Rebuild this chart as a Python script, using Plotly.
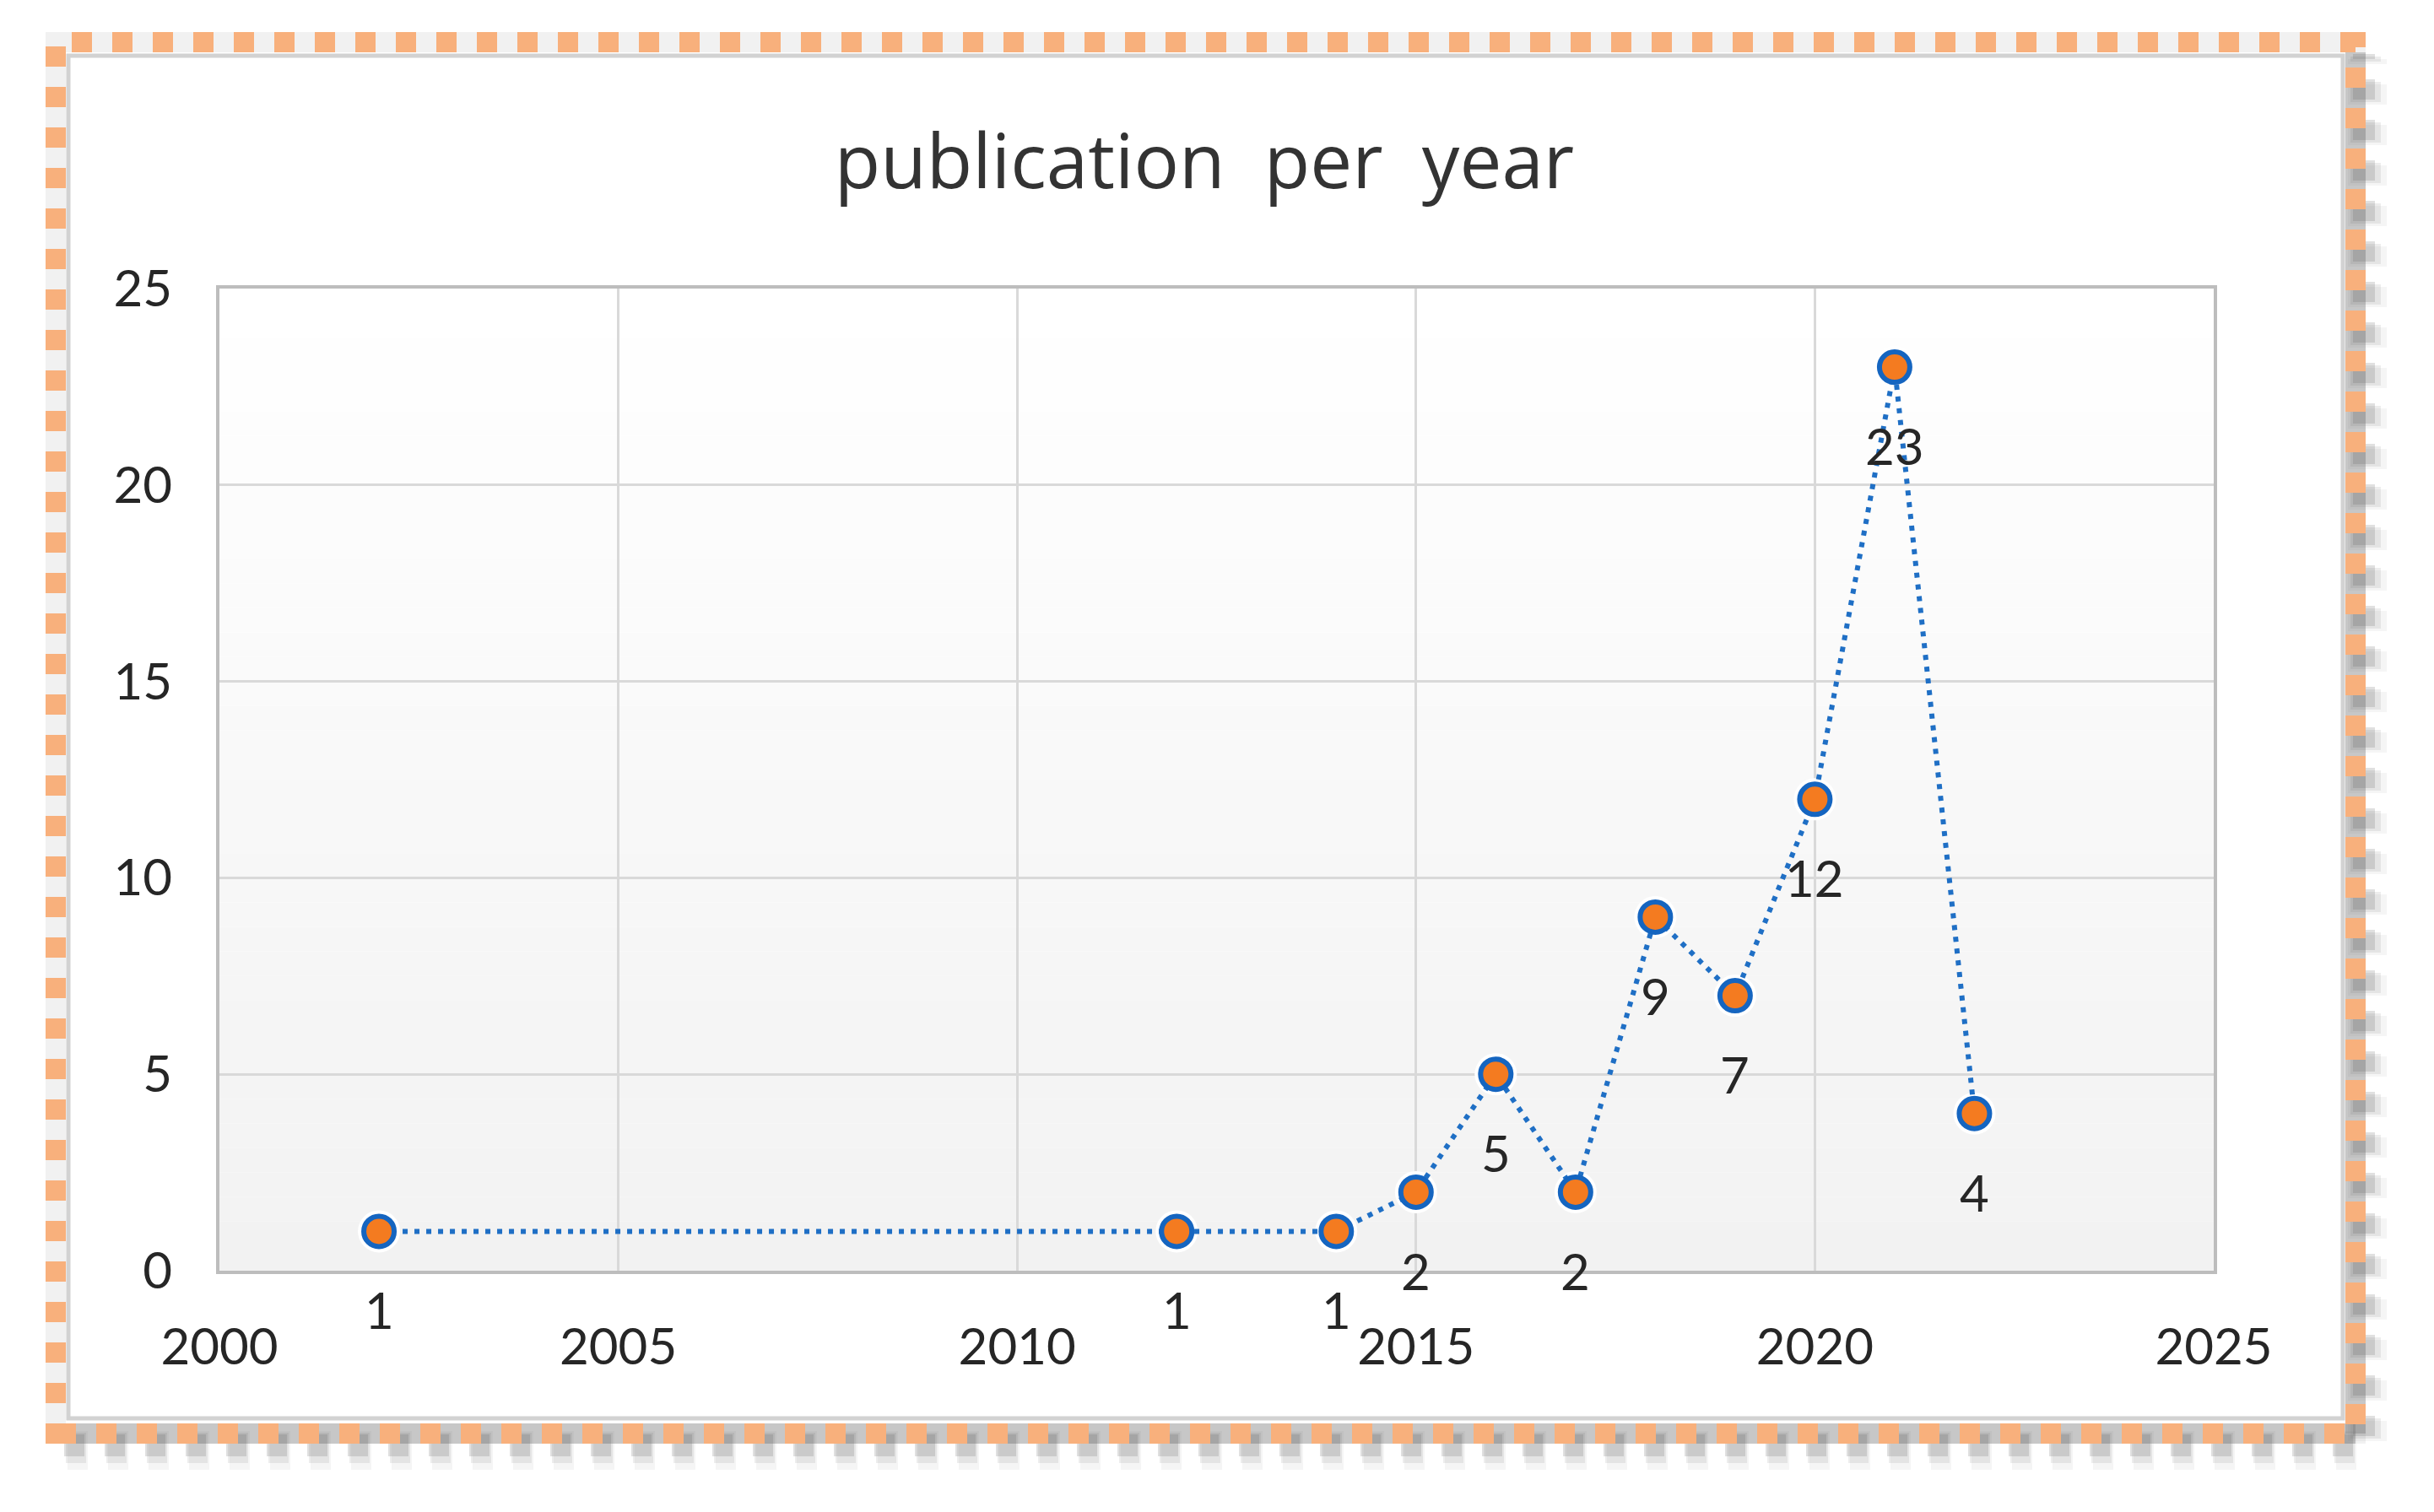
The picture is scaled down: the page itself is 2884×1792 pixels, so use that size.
import plotly.graph_objects as go

# ---- data ----
years = [2002, 2012, 2014, 2015, 2016, 2017, 2018, 2019, 2020, 2021, 2022]
publications = [1, 1, 1, 2, 5, 2, 9, 7, 12, 23, 4]
x_ticks = [2000, 2005, 2010, 2015, 2020, 2025]
y_ticks = [0, 5, 10, 15, 20, 25]
title_text = "publication  per  year"

OFF = 8  # browser default body margin
W, H = 2884 - 2 * OFF, 1792 - 2 * OFF
# plot area in page pixels -> figure pixels
PL, PR, PT, PB = 260 - OFF, 2623 - OFF, 342 - OFF, 1506 - OFF


def px_x(p):
    return (p - OFF - PL) / (PR - PL)


def px_y(p):
    return (PB - (p - OFF)) / (PB - PT)


FONT = "Lato"
TXT = "#262626"
LINE_BLUE = "#1F6FC5"
ORANGE = "#F47B20"

fig = go.Figure()

# white halo behind markers
fig.add_trace(go.Scatter(
    x=years, y=publications, mode="markers",
    marker=dict(size=50, color="white", line=dict(width=0)),
    hoverinfo="skip", showlegend=False, cliponaxis=False,
))
# series
fig.add_trace(go.Scatter(
    x=years, y=publications, mode="lines+markers",
    line=dict(color=LINE_BLUE, width=6, dash="6px,8px"),
    marker=dict(size=36, color=ORANGE, line=dict(color="#1565C0", width=6)),
    showlegend=False, cliponaxis=False,
))

# data labels below points
for xv, yv in zip(years, publications):
    fig.add_annotation(
        x=xv, y=yv, text=str(yv), showarrow=False, yshift=-93,
        font=dict(family=FONT, size=60, color=TXT),
    )

shapes = []
# plot background gradient (white top -> light gray bottom)
n = 40
for i in range(n):
    t = (i + 0.5) / n  # 0 bottom .. 1 top
    c = int(round(242 + (255 - 242) * t))
    shapes.append(dict(
        type="rect", xref="paper", yref="paper",
        x0=0, x1=1, y0=i / n, y1=(i + 1) / n,
        fillcolor=f"rgb({c},{c},{c})", line=dict(width=0), layer="below",
    ))

# frame: soft shadow, inner line, orange dashes
fx0, fx1, fy0, fy1 = 66, 2791, 50, 1699
DASH = "24px,24px"


def seg(xa, ya, xb, yb, color, width, dash=None):
    ln = dict(color=color, width=width)
    if dash:
        ln["dash"] = dash
    return dict(type="line", xref="paper", yref="paper",
                x0=px_x(xa), y0=px_y(ya), x1=px_x(xb), y1=px_y(yb),
                line=ln, layer="below")


# light gray in gaps along top/left
shapes.append(dict(
    type="rect", xref="paper", yref="paper",
    x0=px_x(fx0), x1=px_x(fx1), y0=px_y(fy1), y1=px_y(fy0),
    line=dict(color="rgba(170,170,170,0.16)", width=24), fillcolor="rgba(0,0,0,0)",
    layer="below",
))
# darker gray in gaps along right/bottom
shapes.append(seg(fx0 + 12, fy1, fx1, fy1, "rgba(120,120,120,0.35)", 24))
shapes.append(seg(fx1, fy1, fx1, fy0 + 12, "rgba(120,120,120,0.35)", 24))
# blurred dashed drop shadow (phase-matched with the frame dashes)
phase_right = 48 - ((fx1 - fx0) % 48)
for dx, dy, w, col in [(14, 20, 46, "rgba(110,110,110,0.07)"),
                       (12, 17, 36, "rgba(110,110,110,0.12)"),
                       (10, 14, 26, "rgba(100,100,100,0.20)")]:
    shapes.append(seg(fx0 + dx, fy1 + dy, fx1 + dx, fy1 + dy, col, w, DASH))
    shapes.append(seg(fx1 + dx, fy1 - phase_right + dy, fx1 + dx, fy0 + dy, col, w, DASH))
# thin inner line
shapes.append(dict(
    type="rect", xref="paper", yref="paper",
    x0=px_x(fx0 + 15), x1=px_x(fx1 - 15), y0=px_y(fy1 - 18), y1=px_y(fy0 + 16),
    line=dict(color="#D2D2D2", width=5), fillcolor="rgba(0,0,0,0)", layer="below",
))
# orange dashed frame
shapes.append(dict(
    type="rect", xref="paper", yref="paper",
    x0=px_x(fx0), x1=px_x(fx1), y0=px_y(fy1), y1=px_y(fy0),
    line=dict(color="#F8B07C", width=24, dash=DASH), fillcolor="rgba(0,0,0,0)",
    layer="above",
))

fig.update_layout(
    width=W, height=H,
    margin=dict(l=PL, r=W - PR, t=PT, b=H - PB, pad=0),
    paper_bgcolor="white", plot_bgcolor="rgba(0,0,0,0)",
    shapes=shapes,
    title=dict(
        text=title_text, x=((995 + 1859) / 2 - OFF) / W, xanchor="center",
        y=1 - (192 - OFF) / H, yanchor="middle", yref="container",
        font=dict(family="Open Sans", size=89, color="#333333"),
    ),
    xaxis=dict(
        range=[x_ticks[0], x_ticks[-1]], tickvals=x_ticks, ticktext=[str(v) for v in x_ticks],
        showgrid=True, gridcolor="#D9D9D9", gridwidth=3, zeroline=False,
        showline=True, linecolor="#BDBDBD", linewidth=4, mirror=True,
        ticks="", ticklabelstandoff=35,
        tickfont=dict(family=FONT, size=60, color=TXT),
    ),
    yaxis=dict(
        range=[y_ticks[0], y_ticks[-1]], tickvals=y_ticks, ticktext=[str(v) for v in y_ticks],
        showgrid=True, gridcolor="#D9D9D9", gridwidth=3, zeroline=False,
        showline=True, linecolor="#BDBDBD", linewidth=4, mirror=True,
        ticks="", ticklabelstandoff=40,
        tickfont=dict(family=FONT, size=60, color=TXT),
    ),
    font=dict(family=FONT),
)

fig.write_html("out.html")
